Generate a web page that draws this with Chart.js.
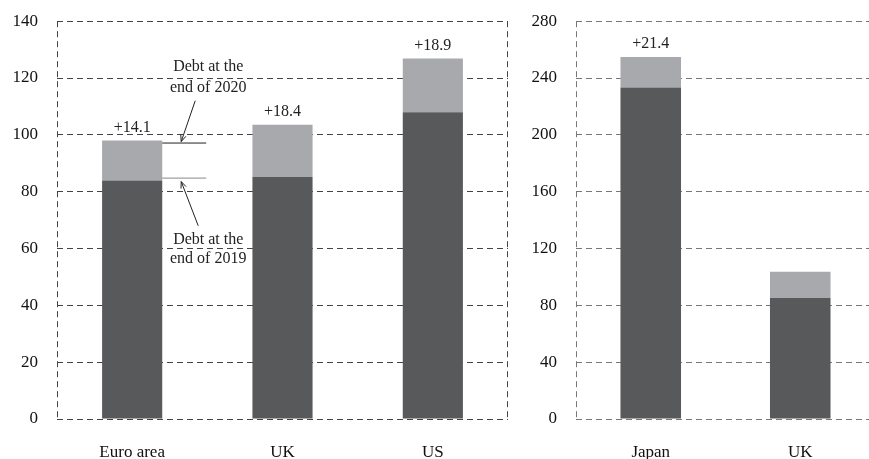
<!DOCTYPE html>
<html>
<head>
<meta charset="utf-8">
<script src="https://cdn.jsdelivr.net/npm/chart.js@4.4.1/dist/chart.umd.min.js"></script>
<style>
html, body { margin: 0; padding: 0; background: #fff; overflow: hidden; width: 869px; height: 459px; }
#left { position: absolute; left: 0; top: -8px; width: 520px; height: 467px; }
#right { position: absolute; left: 520px; top: -8px; width: 360px; height: 467px; }
</style>
</head>
<body>
<div id="left"><canvas id="leftChart"></canvas></div>
<div id="right"><canvas id="rightChart"></canvas></div>
<script>
// debt, % of GDP
var leftCats = ['Euro area', 'UK', 'US'];
var left2019 = [83.9, 85.2, 108.0];
var leftRise = [14.1, 18.4, 18.9];
var leftLabels = ['+14.1', '+18.4', '+18.9'];
var leftTicks = [0, 20, 40, 60, 80, 100, 120, 140];

var rightCats = ['Japan', 'UK'];
var right2019 = [233.4, 85.2];
var rightRise = [21.4, 18.4];
var rightLabels = ['+21.4', ''];
var rightTicks = [0, 40, 80, 120, 160, 200, 240, 280];

var darkGrey = '#58595b';
var lightGrey = '#a7a9ac';
var serif = "'Liberation Serif', 'Times New Roman', serif";

Chart.defaults.font.family = serif;
Chart.defaults.color = '#222';
Chart.defaults.animation = false;

// dashed frame on left and right of plot
var framePlugin = {
    id: 'frame',
    beforeDatasetsDraw: function (chart, args, opts) {
        var a = chart.chartArea;
        var ctx = chart.ctx;
        ctx.save();
        ctx.strokeStyle = opts.color;
        ctx.lineWidth = 1;
        ctx.setLineDash([6, 4]);
        ctx.beginPath();
        ctx.moveTo(a.left + 0.5, a.top);
        ctx.lineTo(a.left + 0.5, a.bottom);
        if (opts.right) {
            ctx.moveTo(a.right - 0.5, a.top);
            ctx.lineTo(a.right - 0.5, a.bottom);
        }
        ctx.stroke();
        ctx.restore();
    }
};

// "+x.x" above each bar
var topLabelPlugin = {
    id: 'topLabels',
    afterDatasetsDraw: function (chart, args, opts) {
        var ctx = chart.ctx;
        var meta = chart.getDatasetMeta(1);
        ctx.save();
        ctx.font = '16px ' + serif;
        ctx.fillStyle = '#222';
        ctx.textAlign = 'center';
        ctx.textBaseline = 'middle';
        meta.data.forEach(function (el, i) {
            if (opts.labels[i]) ctx.fillText(opts.labels[i], el.x, el.y - 13);
        });
        ctx.restore();
    }
};

function arrow(ctx, x1, y1, x2, y2) {
    var ang = Math.atan2(y2 - y1, x2 - x1);
    ctx.beginPath();
    ctx.moveTo(x1, y1);
    ctx.lineTo(x2, y2);
    ctx.moveTo(x2 - 7 * Math.cos(ang - 0.4), y2 - 7 * Math.sin(ang - 0.4));
    ctx.lineTo(x2, y2);
    ctx.lineTo(x2 - 7 * Math.cos(ang + 0.4), y2 - 7 * Math.sin(ang + 0.4));
    ctx.stroke();
}

// the two "Debt at the end of ..." notes next to the euro area bar
var notePlugin = {
    id: 'notes',
    afterDatasetsDraw: function (chart) {
        var ctx = chart.ctx;
        var y = chart.scales.y;
        var el = chart.getDatasetMeta(0).data[0];
        var x0 = el.x + el.width / 2;
        var y2020 = y.getPixelForValue(left2019[0] + leftRise[0]) + 2;
        var y2019 = y.getPixelForValue(left2019[0]) - 3;
        ctx.save();
        ctx.lineWidth = 1;
        ctx.strokeStyle = '#222';
        ctx.beginPath();
        ctx.moveTo(x0, y2020 + 0.5);
        ctx.lineTo(x0 + 44, y2020 + 0.5);
        ctx.stroke();
        ctx.strokeStyle = '#888';
        ctx.beginPath();
        ctx.moveTo(x0, y2019 + 0.5);
        ctx.lineTo(x0 + 44, y2019 + 0.5);
        ctx.stroke();

        ctx.strokeStyle = '#222';
        arrow(ctx, x0 + 33, y.getPixelForValue(112), x0 + 19, y2020 - 1);
        arrow(ctx, x0 + 36, y.getPixelForValue(68), x0 + 19, y2019 + 4);

        ctx.font = '16px ' + serif;
        ctx.fillStyle = '#222';
        ctx.textAlign = 'center';
        ctx.textBaseline = 'middle';
        ctx.fillText('Debt at the', x0 + 46, y.getPixelForValue(124));
        ctx.fillText('end of 2020', x0 + 46, y.getPixelForValue(116.6));
        ctx.fillText('Debt at the', x0 + 46, y.getPixelForValue(63));
        ctx.fillText('end of 2019', x0 + 46, y.getPixelForValue(56.4));
        ctx.restore();
    }
};

function makeChart(id, cats, base, rise, labels, ticks, opt) {
    var ctx = document.getElementById(id);
    var plugins = [framePlugin, topLabelPlugin];
    if (opt.notes) plugins.push(notePlugin);
    return new Chart(ctx, {
        type: 'bar',
        data: {
            labels: cats,
            datasets: [
                { data: base, backgroundColor: darkGrey, barPercentage: opt.bar, categoryPercentage: 1 },
                { data: rise, backgroundColor: lightGrey, barPercentage: opt.bar, categoryPercentage: 1 }
            ]
        },
        options: {
            responsive: true,
            maintainAspectRatio: false,
            layout: { padding: { top: 0, right: opt.padRight, left: 0, bottom: 0 } },
            plugins: {
                legend: { display: false },
                tooltip: { enabled: false },
                frame: { color: opt.grid, right: opt.frameRight },
                topLabels: { labels: labels }
            },
            scales: {
                x: {
                    stacked: true,
                    grid: { display: false },
                    border: { display: false },
                    ticks: { font: { size: 17 }, padding: 15, color: '#111' },
                    afterFit: function (s) { s.height = 40; }
                },
                y: {
                    stacked: true,
                    min: ticks[0],
                    max: ticks[ticks.length - 1],
                    afterBuildTicks: function (s) {
                        s.ticks = ticks.map(function (v) { return { value: v }; });
                    },
                    grid: { color: opt.grid, drawTicks: false, lineWidth: 1 },
                    border: { display: false, dash: [6, 4] },
                    ticks: { font: { size: 17 }, padding: 19, color: '#111' },
                    afterFit: function (s) { s.width = opt.yWidth; }
                }
            }
        },
        plugins: plugins
    });
}

makeChart('leftChart', leftCats, left2019, leftRise, leftLabels, leftTicks,
    { bar: 0.4, padRight: 12, yWidth: 57, grid: '#444', frameRight: true, notes: true });
makeChart('rightChart', rightCats, right2019, rightRise, rightLabels, rightTicks,
    { bar: 0.405, padRight: 5, yWidth: 56, grid: '#777', frameRight: false, notes: false });
</script>
</body>
</html>
